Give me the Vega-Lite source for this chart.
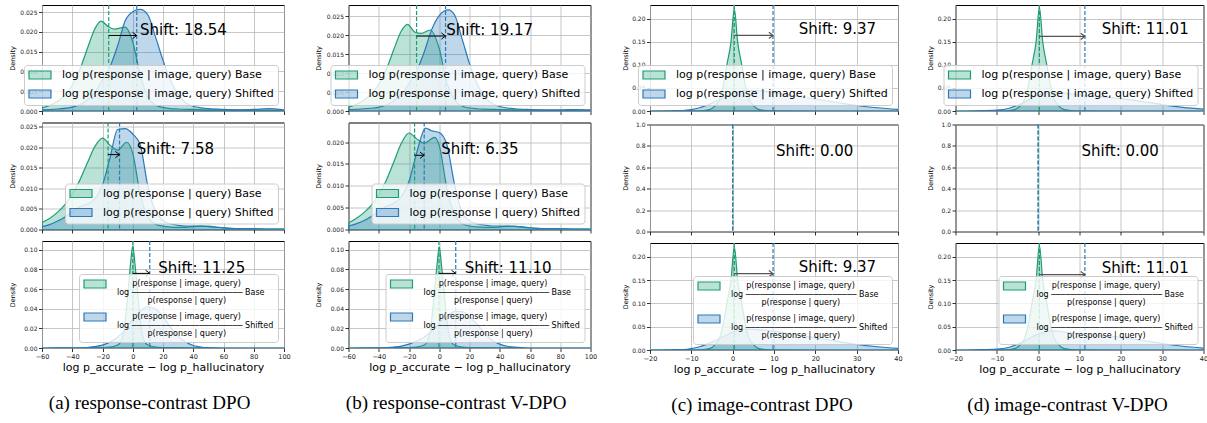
{
"$schema": "https://vega.github.io/schema/vega-lite/v6.json",
"padding": {"left": 8, "top": 3, "right": 0, "bottom": 0},
"background": "white",
"datasets": {"d": [
{"p":"a1","k":"c","s":"Base","x":-60,"y":0.0008},{"p":"a1","k":"c","s":"Base","x":-55,"y":0.0014},{"p":"a1","k":"c","s":"Base","x":-50,"y":0.0024},{"p":"a1","k":"c","s":"Base","x":-45,"y":0.004},{"p":"a1","k":"c","s":"Base","x":-40,"y":0.0065},{"p":"a1","k":"c","s":"Base","x":-35,"y":0.0105},{"p":"a1","k":"c","s":"Base","x":-30,"y":0.0158},{"p":"a1","k":"c","s":"Base","x":-25,"y":0.0208},{"p":"a1","k":"c","s":"Base","x":-21,"y":0.0227},{"p":"a1","k":"c","s":"Base","x":-16,"y":0.0213},{"p":"a1","k":"c","s":"Base","x":-12,"y":0.0207},{"p":"a1","k":"c","s":"Base","x":-5,"y":0.0212},{"p":"a1","k":"c","s":"Base","x":0,"y":0.0175},{"p":"a1","k":"c","s":"Base","x":5,"y":0.009},{"p":"a1","k":"c","s":"Base","x":10,"y":0.0035},{"p":"a1","k":"c","s":"Base","x":15,"y":0.0015},{"p":"a1","k":"c","s":"Base","x":20,"y":0.0009},{"p":"a1","k":"c","s":"Base","x":25,"y":0.0006},{"p":"a1","k":"c","s":"Base","x":30,"y":0.0005},{"p":"a1","k":"c","s":"Base","x":40,"y":0.0004},{"p":"a1","k":"c","s":"Base","x":50,"y":0.0003},{"p":"a1","k":"c","s":"Base","x":60,"y":0.0003},{"p":"a1","k":"c","s":"Base","x":70,"y":0.0002},{"p":"a1","k":"c","s":"Base","x":80,"y":0.0002},{"p":"a1","k":"c","s":"Base","x":90,"y":0.0002},{"p":"a1","k":"c","s":"Base","x":100,"y":0.0001},
{"p":"a1","k":"c","s":"Shifted","x":-60,"y":0.0003},{"p":"a1","k":"c","s":"Shifted","x":-50,"y":0.0005},{"p":"a1","k":"c","s":"Shifted","x":-40,"y":0.001},{"p":"a1","k":"c","s":"Shifted","x":-35,"y":0.0016},{"p":"a1","k":"c","s":"Shifted","x":-30,"y":0.0028},{"p":"a1","k":"c","s":"Shifted","x":-25,"y":0.0048},{"p":"a1","k":"c","s":"Shifted","x":-20,"y":0.0078},{"p":"a1","k":"c","s":"Shifted","x":-15,"y":0.0112},{"p":"a1","k":"c","s":"Shifted","x":-10,"y":0.0165},{"p":"a1","k":"c","s":"Shifted","x":-5,"y":0.0228},{"p":"a1","k":"c","s":"Shifted","x":0,"y":0.0251},{"p":"a1","k":"c","s":"Shifted","x":5,"y":0.0257},{"p":"a1","k":"c","s":"Shifted","x":10,"y":0.0243},{"p":"a1","k":"c","s":"Shifted","x":15,"y":0.0188},{"p":"a1","k":"c","s":"Shifted","x":20,"y":0.0128},{"p":"a1","k":"c","s":"Shifted","x":25,"y":0.0078},{"p":"a1","k":"c","s":"Shifted","x":30,"y":0.0042},{"p":"a1","k":"c","s":"Shifted","x":35,"y":0.0021},{"p":"a1","k":"c","s":"Shifted","x":40,"y":0.0012},{"p":"a1","k":"c","s":"Shifted","x":45,"y":0.0008},{"p":"a1","k":"c","s":"Shifted","x":50,"y":0.0006},{"p":"a1","k":"c","s":"Shifted","x":60,"y":0.0004},{"p":"a1","k":"c","s":"Shifted","x":70,"y":0.0003},{"p":"a1","k":"c","s":"Shifted","x":80,"y":0.0004},{"p":"a1","k":"c","s":"Shifted","x":90,"y":0.0006},{"p":"a1","k":"c","s":"Shifted","x":100,"y":0.0003},
{"p":"a1","k":"m","s":"Base","x":-15.9},{"p":"a1","k":"m","s":"Shifted","x":2.64},
{"p":"a1","k":"s","x":-15.9,"x2":2.64,"y":0.0191},{"p":"a1","k":"t","x":4.8,"y":0.0204,"t":"Shift: 18.54"},

{"p":"a2","k":"c","s":"Base","x":-60,"y":0.0017},{"p":"a2","k":"c","s":"Base","x":-55,"y":0.0027},{"p":"a2","k":"c","s":"Base","x":-50,"y":0.0041},{"p":"a2","k":"c","s":"Base","x":-45,"y":0.006},{"p":"a2","k":"c","s":"Base","x":-40,"y":0.0086},{"p":"a2","k":"c","s":"Base","x":-35,"y":0.012},{"p":"a2","k":"c","s":"Base","x":-30,"y":0.0162},{"p":"a2","k":"c","s":"Base","x":-25,"y":0.0202},{"p":"a2","k":"c","s":"Base","x":-20,"y":0.0222},{"p":"a2","k":"c","s":"Base","x":-15,"y":0.0205},{"p":"a2","k":"c","s":"Base","x":-10,"y":0.0193},{"p":"a2","k":"c","s":"Base","x":-4,"y":0.0212},{"p":"a2","k":"c","s":"Base","x":0,"y":0.0185},{"p":"a2","k":"c","s":"Base","x":5,"y":0.0085},{"p":"a2","k":"c","s":"Base","x":10,"y":0.003},{"p":"a2","k":"c","s":"Base","x":15,"y":0.0013},{"p":"a2","k":"c","s":"Base","x":20,"y":0.0008},{"p":"a2","k":"c","s":"Base","x":25,"y":0.0006},{"p":"a2","k":"c","s":"Base","x":30,"y":0.0005},{"p":"a2","k":"c","s":"Base","x":35,"y":0.0005},{"p":"a2","k":"c","s":"Base","x":40,"y":0.0007},{"p":"a2","k":"c","s":"Base","x":45,"y":0.0008},{"p":"a2","k":"c","s":"Base","x":50,"y":0.0008},{"p":"a2","k":"c","s":"Base","x":55,"y":0.0006},{"p":"a2","k":"c","s":"Base","x":60,"y":0.0004},{"p":"a2","k":"c","s":"Base","x":70,"y":0.0002},{"p":"a2","k":"c","s":"Base","x":80,"y":0.0001},{"p":"a2","k":"c","s":"Base","x":90,"y":0.0001},{"p":"a2","k":"c","s":"Base","x":100,"y":0.0001},
{"p":"a2","k":"c","s":"Shifted","x":-60,"y":0.0007},{"p":"a2","k":"c","s":"Shifted","x":-55,"y":0.0012},{"p":"a2","k":"c","s":"Shifted","x":-50,"y":0.002},{"p":"a2","k":"c","s":"Shifted","x":-45,"y":0.003},{"p":"a2","k":"c","s":"Shifted","x":-40,"y":0.0043},{"p":"a2","k":"c","s":"Shifted","x":-35,"y":0.0055},{"p":"a2","k":"c","s":"Shifted","x":-30,"y":0.0062},{"p":"a2","k":"c","s":"Shifted","x":-25,"y":0.0075},{"p":"a2","k":"c","s":"Shifted","x":-20,"y":0.0108},{"p":"a2","k":"c","s":"Shifted","x":-15,"y":0.0175},{"p":"a2","k":"c","s":"Shifted","x":-10,"y":0.0243},{"p":"a2","k":"c","s":"Shifted","x":-5,"y":0.0245},{"p":"a2","k":"c","s":"Shifted","x":0,"y":0.0232},{"p":"a2","k":"c","s":"Shifted","x":5,"y":0.0205},{"p":"a2","k":"c","s":"Shifted","x":10,"y":0.0105},{"p":"a2","k":"c","s":"Shifted","x":15,"y":0.0045},{"p":"a2","k":"c","s":"Shifted","x":20,"y":0.0022},{"p":"a2","k":"c","s":"Shifted","x":25,"y":0.0014},{"p":"a2","k":"c","s":"Shifted","x":30,"y":0.001},{"p":"a2","k":"c","s":"Shifted","x":35,"y":0.0008},{"p":"a2","k":"c","s":"Shifted","x":40,"y":0.0008},{"p":"a2","k":"c","s":"Shifted","x":45,"y":0.0008},{"p":"a2","k":"c","s":"Shifted","x":50,"y":0.0007},{"p":"a2","k":"c","s":"Shifted","x":60,"y":0.0004},{"p":"a2","k":"c","s":"Shifted","x":70,"y":0.0002},{"p":"a2","k":"c","s":"Shifted","x":80,"y":0.0002},{"p":"a2","k":"c","s":"Shifted","x":90,"y":0.0001},{"p":"a2","k":"c","s":"Shifted","x":100,"y":0.0001},
{"p":"a2","k":"m","s":"Base","x":-16.3},{"p":"a2","k":"m","s":"Shifted","x":-8.72},
{"p":"a2","k":"s","x":-16.3,"x2":-8.72,"y":0.0182},{"p":"a2","k":"t","x":2.6,"y":0.0196,"t":"Shift: 7.58"},

{"p":"a3","k":"c","s":"Base","x":-60,"y":0},{"p":"a3","k":"c","s":"Base","x":-40,"y":0.0001},{"p":"a3","k":"c","s":"Base","x":-25,"y":0.0003},{"p":"a3","k":"c","s":"Base","x":-15,"y":0.001},{"p":"a3","k":"c","s":"Base","x":-10,"y":0.003},{"p":"a3","k":"c","s":"Base","x":-8,"y":0.006},{"p":"a3","k":"c","s":"Base","x":-6,"y":0.016},{"p":"a3","k":"c","s":"Base","x":-4.5,"y":0.035},{"p":"a3","k":"c","s":"Base","x":-3,"y":0.06},{"p":"a3","k":"c","s":"Base","x":-1.5,"y":0.085},{"p":"a3","k":"c","s":"Base","x":0,"y":0.104},{"p":"a3","k":"c","s":"Base","x":1.5,"y":0.085},{"p":"a3","k":"c","s":"Base","x":3,"y":0.06},{"p":"a3","k":"c","s":"Base","x":4.5,"y":0.035},{"p":"a3","k":"c","s":"Base","x":6,"y":0.016},{"p":"a3","k":"c","s":"Base","x":8,"y":0.006},{"p":"a3","k":"c","s":"Base","x":10,"y":0.003},{"p":"a3","k":"c","s":"Base","x":15,"y":0.001},{"p":"a3","k":"c","s":"Base","x":25,"y":0.0003},{"p":"a3","k":"c","s":"Base","x":40,"y":0.0001},{"p":"a3","k":"c","s":"Base","x":60,"y":0},{"p":"a3","k":"c","s":"Base","x":100,"y":0},
{"p":"a3","k":"c","s":"Shifted","x":-60,"y":0},{"p":"a3","k":"c","s":"Shifted","x":-40,"y":0.0001},{"p":"a3","k":"c","s":"Shifted","x":-30,"y":0.0005},{"p":"a3","k":"c","s":"Shifted","x":-25,"y":0.0015},{"p":"a3","k":"c","s":"Shifted","x":-20,"y":0.003},{"p":"a3","k":"c","s":"Shifted","x":-15,"y":0.006},{"p":"a3","k":"c","s":"Shifted","x":-10,"y":0.011},{"p":"a3","k":"c","s":"Shifted","x":-5,"y":0.019},{"p":"a3","k":"c","s":"Shifted","x":0,"y":0.029},{"p":"a3","k":"c","s":"Shifted","x":5,"y":0.038},{"p":"a3","k":"c","s":"Shifted","x":10,"y":0.042},{"p":"a3","k":"c","s":"Shifted","x":15,"y":0.04},{"p":"a3","k":"c","s":"Shifted","x":20,"y":0.032},{"p":"a3","k":"c","s":"Shifted","x":25,"y":0.021},{"p":"a3","k":"c","s":"Shifted","x":30,"y":0.012},{"p":"a3","k":"c","s":"Shifted","x":35,"y":0.006},{"p":"a3","k":"c","s":"Shifted","x":40,"y":0.0025},{"p":"a3","k":"c","s":"Shifted","x":45,"y":0.001},{"p":"a3","k":"c","s":"Shifted","x":50,"y":0.0003},{"p":"a3","k":"c","s":"Shifted","x":60,"y":0},{"p":"a3","k":"c","s":"Shifted","x":100,"y":0},
{"p":"a3","k":"m","s":"Base","x":0},{"p":"a3","k":"m","s":"Shifted","x":11.25},
{"p":"a3","k":"s","x":0,"x2":11.25,"y":0.076},{"p":"a3","k":"t","x":16.9,"y":0.082,"t":"Shift: 11.25"},

{"p":"b1","k":"c","s":"Base","x":-60,"y":0.001},{"p":"b1","k":"c","s":"Base","x":-55,"y":0.0017},{"p":"b1","k":"c","s":"Base","x":-50,"y":0.0028},{"p":"b1","k":"c","s":"Base","x":-45,"y":0.0045},{"p":"b1","k":"c","s":"Base","x":-40,"y":0.007},{"p":"b1","k":"c","s":"Base","x":-35,"y":0.011},{"p":"b1","k":"c","s":"Base","x":-30,"y":0.0163},{"p":"b1","k":"c","s":"Base","x":-25,"y":0.0212},{"p":"b1","k":"c","s":"Base","x":-21,"y":0.0229},{"p":"b1","k":"c","s":"Base","x":-16,"y":0.0208},{"p":"b1","k":"c","s":"Base","x":-12,"y":0.0205},{"p":"b1","k":"c","s":"Base","x":-6,"y":0.0214},{"p":"b1","k":"c","s":"Base","x":0,"y":0.0165},{"p":"b1","k":"c","s":"Base","x":5,"y":0.0075},{"p":"b1","k":"c","s":"Base","x":10,"y":0.003},{"p":"b1","k":"c","s":"Base","x":15,"y":0.0013},{"p":"b1","k":"c","s":"Base","x":20,"y":0.0008},{"p":"b1","k":"c","s":"Base","x":25,"y":0.0006},{"p":"b1","k":"c","s":"Base","x":30,"y":0.0005},{"p":"b1","k":"c","s":"Base","x":40,"y":0.0004},{"p":"b1","k":"c","s":"Base","x":50,"y":0.0003},{"p":"b1","k":"c","s":"Base","x":60,"y":0.0003},{"p":"b1","k":"c","s":"Base","x":70,"y":0.0002},{"p":"b1","k":"c","s":"Base","x":80,"y":0.0002},{"p":"b1","k":"c","s":"Base","x":90,"y":0.0002},{"p":"b1","k":"c","s":"Base","x":100,"y":0.0001},
{"p":"b1","k":"c","s":"Shifted","x":-60,"y":0.0004},{"p":"b1","k":"c","s":"Shifted","x":-50,"y":0.0006},{"p":"b1","k":"c","s":"Shifted","x":-40,"y":0.001},{"p":"b1","k":"c","s":"Shifted","x":-35,"y":0.0016},{"p":"b1","k":"c","s":"Shifted","x":-30,"y":0.0027},{"p":"b1","k":"c","s":"Shifted","x":-25,"y":0.0045},{"p":"b1","k":"c","s":"Shifted","x":-20,"y":0.0072},{"p":"b1","k":"c","s":"Shifted","x":-15,"y":0.0105},{"p":"b1","k":"c","s":"Shifted","x":-10,"y":0.0155},{"p":"b1","k":"c","s":"Shifted","x":-5,"y":0.0215},{"p":"b1","k":"c","s":"Shifted","x":0,"y":0.0252},{"p":"b1","k":"c","s":"Shifted","x":6,"y":0.0267},{"p":"b1","k":"c","s":"Shifted","x":10,"y":0.0255},{"p":"b1","k":"c","s":"Shifted","x":15,"y":0.0192},{"p":"b1","k":"c","s":"Shifted","x":20,"y":0.0125},{"p":"b1","k":"c","s":"Shifted","x":25,"y":0.0072},{"p":"b1","k":"c","s":"Shifted","x":30,"y":0.0038},{"p":"b1","k":"c","s":"Shifted","x":35,"y":0.002},{"p":"b1","k":"c","s":"Shifted","x":40,"y":0.0012},{"p":"b1","k":"c","s":"Shifted","x":45,"y":0.0008},{"p":"b1","k":"c","s":"Shifted","x":50,"y":0.0006},{"p":"b1","k":"c","s":"Shifted","x":60,"y":0.0004},{"p":"b1","k":"c","s":"Shifted","x":70,"y":0.0003},{"p":"b1","k":"c","s":"Shifted","x":80,"y":0.0003},{"p":"b1","k":"c","s":"Shifted","x":90,"y":0.0004},{"p":"b1","k":"c","s":"Shifted","x":100,"y":0.0003},
{"p":"b1","k":"m","s":"Base","x":-15.0},{"p":"b1","k":"m","s":"Shifted","x":4.17},
{"p":"b1","k":"s","x":-15.0,"x2":4.17,"y":0.0198},{"p":"b1","k":"t","x":4.6,"y":0.0215,"t":"Shift: 19.17"},

{"p":"b2","k":"c","s":"Base","x":-60,"y":0.0015},{"p":"b2","k":"c","s":"Base","x":-55,"y":0.0025},{"p":"b2","k":"c","s":"Base","x":-50,"y":0.0038},{"p":"b2","k":"c","s":"Base","x":-45,"y":0.0055},{"p":"b2","k":"c","s":"Base","x":-40,"y":0.008},{"p":"b2","k":"c","s":"Base","x":-35,"y":0.0113},{"p":"b2","k":"c","s":"Base","x":-30,"y":0.0155},{"p":"b2","k":"c","s":"Base","x":-25,"y":0.0198},{"p":"b2","k":"c","s":"Base","x":-20,"y":0.0221},{"p":"b2","k":"c","s":"Base","x":-15,"y":0.0208},{"p":"b2","k":"c","s":"Base","x":-10,"y":0.0198},{"p":"b2","k":"c","s":"Base","x":-3,"y":0.0211},{"p":"b2","k":"c","s":"Base","x":0,"y":0.0192},{"p":"b2","k":"c","s":"Base","x":5,"y":0.0095},{"p":"b2","k":"c","s":"Base","x":10,"y":0.0035},{"p":"b2","k":"c","s":"Base","x":15,"y":0.0014},{"p":"b2","k":"c","s":"Base","x":20,"y":0.0008},{"p":"b2","k":"c","s":"Base","x":25,"y":0.0006},{"p":"b2","k":"c","s":"Base","x":30,"y":0.0005},{"p":"b2","k":"c","s":"Base","x":35,"y":0.0005},{"p":"b2","k":"c","s":"Base","x":40,"y":0.0006},{"p":"b2","k":"c","s":"Base","x":45,"y":0.0007},{"p":"b2","k":"c","s":"Base","x":50,"y":0.0007},{"p":"b2","k":"c","s":"Base","x":55,"y":0.0006},{"p":"b2","k":"c","s":"Base","x":60,"y":0.0004},{"p":"b2","k":"c","s":"Base","x":70,"y":0.0002},{"p":"b2","k":"c","s":"Base","x":80,"y":0.0001},{"p":"b2","k":"c","s":"Base","x":90,"y":0.0001},{"p":"b2","k":"c","s":"Base","x":100,"y":0.0001},
{"p":"b2","k":"c","s":"Shifted","x":-60,"y":0.0008},{"p":"b2","k":"c","s":"Shifted","x":-55,"y":0.0013},{"p":"b2","k":"c","s":"Shifted","x":-50,"y":0.002},{"p":"b2","k":"c","s":"Shifted","x":-45,"y":0.003},{"p":"b2","k":"c","s":"Shifted","x":-40,"y":0.0042},{"p":"b2","k":"c","s":"Shifted","x":-35,"y":0.0053},{"p":"b2","k":"c","s":"Shifted","x":-30,"y":0.006},{"p":"b2","k":"c","s":"Shifted","x":-25,"y":0.0075},{"p":"b2","k":"c","s":"Shifted","x":-20,"y":0.011},{"p":"b2","k":"c","s":"Shifted","x":-15,"y":0.0175},{"p":"b2","k":"c","s":"Shifted","x":-9,"y":0.0232},{"p":"b2","k":"c","s":"Shifted","x":-5,"y":0.0226},{"p":"b2","k":"c","s":"Shifted","x":0,"y":0.0222},{"p":"b2","k":"c","s":"Shifted","x":5,"y":0.0195},{"p":"b2","k":"c","s":"Shifted","x":10,"y":0.0105},{"p":"b2","k":"c","s":"Shifted","x":15,"y":0.004},{"p":"b2","k":"c","s":"Shifted","x":20,"y":0.002},{"p":"b2","k":"c","s":"Shifted","x":25,"y":0.0013},{"p":"b2","k":"c","s":"Shifted","x":30,"y":0.001},{"p":"b2","k":"c","s":"Shifted","x":35,"y":0.0008},{"p":"b2","k":"c","s":"Shifted","x":40,"y":0.0008},{"p":"b2","k":"c","s":"Shifted","x":45,"y":0.0008},{"p":"b2","k":"c","s":"Shifted","x":50,"y":0.0007},{"p":"b2","k":"c","s":"Shifted","x":60,"y":0.0004},{"p":"b2","k":"c","s":"Shifted","x":70,"y":0.0002},{"p":"b2","k":"c","s":"Shifted","x":80,"y":0.0002},{"p":"b2","k":"c","s":"Shifted","x":90,"y":0.0001},{"p":"b2","k":"c","s":"Shifted","x":100,"y":0.0001},
{"p":"b2","k":"m","s":"Base","x":-16.3},{"p":"b2","k":"m","s":"Shifted","x":-9.95},
{"p":"b2","k":"s","x":-16.3,"x2":-9.95,"y":0.017},{"p":"b2","k":"t","x":1.3,"y":0.0185,"t":"Shift: 6.35"},

{"p":"b3","k":"c","s":"Base","x":-60,"y":0},{"p":"b3","k":"c","s":"Base","x":-40,"y":0.0001},{"p":"b3","k":"c","s":"Base","x":-25,"y":0.0003},{"p":"b3","k":"c","s":"Base","x":-15,"y":0.001},{"p":"b3","k":"c","s":"Base","x":-10,"y":0.003},{"p":"b3","k":"c","s":"Base","x":-8,"y":0.0065},{"p":"b3","k":"c","s":"Base","x":-6,"y":0.017},{"p":"b3","k":"c","s":"Base","x":-4.5,"y":0.036},{"p":"b3","k":"c","s":"Base","x":-3,"y":0.06},{"p":"b3","k":"c","s":"Base","x":-1.5,"y":0.084},{"p":"b3","k":"c","s":"Base","x":0,"y":0.103},{"p":"b3","k":"c","s":"Base","x":1.5,"y":0.084},{"p":"b3","k":"c","s":"Base","x":3,"y":0.06},{"p":"b3","k":"c","s":"Base","x":4.5,"y":0.036},{"p":"b3","k":"c","s":"Base","x":6,"y":0.017},{"p":"b3","k":"c","s":"Base","x":8,"y":0.0065},{"p":"b3","k":"c","s":"Base","x":10,"y":0.003},{"p":"b3","k":"c","s":"Base","x":15,"y":0.001},{"p":"b3","k":"c","s":"Base","x":25,"y":0.0003},{"p":"b3","k":"c","s":"Base","x":40,"y":0.0001},{"p":"b3","k":"c","s":"Base","x":60,"y":0},{"p":"b3","k":"c","s":"Base","x":100,"y":0},
{"p":"b3","k":"c","s":"Shifted","x":-60,"y":0},{"p":"b3","k":"c","s":"Shifted","x":-40,"y":0.0002},{"p":"b3","k":"c","s":"Shifted","x":-30,"y":0.001},{"p":"b3","k":"c","s":"Shifted","x":-25,"y":0.002},{"p":"b3","k":"c","s":"Shifted","x":-20,"y":0.004},{"p":"b3","k":"c","s":"Shifted","x":-15,"y":0.007},{"p":"b3","k":"c","s":"Shifted","x":-10,"y":0.011},{"p":"b3","k":"c","s":"Shifted","x":-5,"y":0.017},{"p":"b3","k":"c","s":"Shifted","x":0,"y":0.025},{"p":"b3","k":"c","s":"Shifted","x":5,"y":0.032},{"p":"b3","k":"c","s":"Shifted","x":10,"y":0.037},{"p":"b3","k":"c","s":"Shifted","x":15,"y":0.037},{"p":"b3","k":"c","s":"Shifted","x":20,"y":0.032},{"p":"b3","k":"c","s":"Shifted","x":25,"y":0.024},{"p":"b3","k":"c","s":"Shifted","x":30,"y":0.015},{"p":"b3","k":"c","s":"Shifted","x":35,"y":0.008},{"p":"b3","k":"c","s":"Shifted","x":40,"y":0.004},{"p":"b3","k":"c","s":"Shifted","x":45,"y":0.0018},{"p":"b3","k":"c","s":"Shifted","x":50,"y":0.0008},{"p":"b3","k":"c","s":"Shifted","x":55,"y":0.0003},{"p":"b3","k":"c","s":"Shifted","x":60,"y":0},{"p":"b3","k":"c","s":"Shifted","x":100,"y":0},
{"p":"b3","k":"m","s":"Base","x":-0.2},{"p":"b3","k":"m","s":"Shifted","x":10.9},
{"p":"b3","k":"s","x":-0.2,"x2":10.9,"y":0.076},{"p":"b3","k":"t","x":16.8,"y":0.082,"t":"Shift: 11.10"},

{"p":"c","k":"c","s":"Base","x":-20,"y":0},{"p":"c","k":"c","s":"Base","x":-10,"y":0.0002},{"p":"c","k":"c","s":"Base","x":-7,"y":0.001},{"p":"c","k":"c","s":"Base","x":-5.6,"y":0.003},{"p":"c","k":"c","s":"Base","x":-4.4,"y":0.01},{"p":"c","k":"c","s":"Base","x":-3.2,"y":0.025},{"p":"c","k":"c","s":"Base","x":-2.4,"y":0.05},{"p":"c","k":"c","s":"Base","x":-1.4,"y":0.1},{"p":"c","k":"c","s":"Base","x":-0.4,"y":0.15},{"p":"c","k":"c","s":"Base","x":0.4,"y":0.222},{"p":"c","k":"c","s":"Base","x":1.2,"y":0.15},{"p":"c","k":"c","s":"Base","x":2.2,"y":0.1},{"p":"c","k":"c","s":"Base","x":3.2,"y":0.05},{"p":"c","k":"c","s":"Base","x":4,"y":0.025},{"p":"c","k":"c","s":"Base","x":5.2,"y":0.01},{"p":"c","k":"c","s":"Base","x":6.4,"y":0.003},{"p":"c","k":"c","s":"Base","x":8,"y":0.001},{"p":"c","k":"c","s":"Base","x":12,"y":0.0002},{"p":"c","k":"c","s":"Base","x":20,"y":0},{"p":"c","k":"c","s":"Base","x":40,"y":0},
{"p":"c","k":"c","s":"Shifted","x":-20,"y":0},{"p":"c","k":"c","s":"Shifted","x":-15,"y":0.0005},{"p":"c","k":"c","s":"Shifted","x":-12,"y":0.001},{"p":"c","k":"c","s":"Shifted","x":-10,"y":0.003},{"p":"c","k":"c","s":"Shifted","x":-8,"y":0.007},{"p":"c","k":"c","s":"Shifted","x":-5,"y":0.017},{"p":"c","k":"c","s":"Shifted","x":-2,"y":0.03},{"p":"c","k":"c","s":"Shifted","x":0,"y":0.038},{"p":"c","k":"c","s":"Shifted","x":3,"y":0.045},{"p":"c","k":"c","s":"Shifted","x":6,"y":0.044},{"p":"c","k":"c","s":"Shifted","x":10,"y":0.04},{"p":"c","k":"c","s":"Shifted","x":15,"y":0.033},{"p":"c","k":"c","s":"Shifted","x":20,"y":0.026},{"p":"c","k":"c","s":"Shifted","x":25,"y":0.019},{"p":"c","k":"c","s":"Shifted","x":30,"y":0.012},{"p":"c","k":"c","s":"Shifted","x":35,"y":0.007},{"p":"c","k":"c","s":"Shifted","x":40,"y":0.0035},
{"p":"c","k":"m","s":"Base","x":0.4},{"p":"c","k":"m","s":"Shifted","x":9.77},
{"p":"c","k":"s","x":0.4,"x2":9.77,"y":0.164},{"p":"c","k":"t","x":16.0,"y":0.178,"t":"Shift: 9.37"},

{"p":"d","k":"c","s":"Base","x":-20,"y":0},{"p":"d","k":"c","s":"Base","x":-10,"y":0.0002},{"p":"d","k":"c","s":"Base","x":-7,"y":0.001},{"p":"d","k":"c","s":"Base","x":-5.7,"y":0.003},{"p":"d","k":"c","s":"Base","x":-4.5,"y":0.01},{"p":"d","k":"c","s":"Base","x":-3.3,"y":0.025},{"p":"d","k":"c","s":"Base","x":-2.5,"y":0.05},{"p":"d","k":"c","s":"Base","x":-1.5,"y":0.1},{"p":"d","k":"c","s":"Base","x":-0.5,"y":0.15},{"p":"d","k":"c","s":"Base","x":0.3,"y":0.225},{"p":"d","k":"c","s":"Base","x":1.1,"y":0.15},{"p":"d","k":"c","s":"Base","x":2.1,"y":0.1},{"p":"d","k":"c","s":"Base","x":3.1,"y":0.05},{"p":"d","k":"c","s":"Base","x":3.9,"y":0.025},{"p":"d","k":"c","s":"Base","x":5.1,"y":0.01},{"p":"d","k":"c","s":"Base","x":6.3,"y":0.003},{"p":"d","k":"c","s":"Base","x":8,"y":0.001},{"p":"d","k":"c","s":"Base","x":12,"y":0.0002},{"p":"d","k":"c","s":"Base","x":20,"y":0},{"p":"d","k":"c","s":"Base","x":40,"y":0},
{"p":"d","k":"c","s":"Shifted","x":-20,"y":0},{"p":"d","k":"c","s":"Shifted","x":-15,"y":0.0005},{"p":"d","k":"c","s":"Shifted","x":-10,"y":0.002},{"p":"d","k":"c","s":"Shifted","x":-7,"y":0.006},{"p":"d","k":"c","s":"Shifted","x":-4,"y":0.016},{"p":"d","k":"c","s":"Shifted","x":-1,"y":0.03},{"p":"d","k":"c","s":"Shifted","x":2,"y":0.04},{"p":"d","k":"c","s":"Shifted","x":4,"y":0.041},{"p":"d","k":"c","s":"Shifted","x":7,"y":0.038},{"p":"d","k":"c","s":"Shifted","x":10,"y":0.035},{"p":"d","k":"c","s":"Shifted","x":15,"y":0.031},{"p":"d","k":"c","s":"Shifted","x":20,"y":0.027},{"p":"d","k":"c","s":"Shifted","x":25,"y":0.021},{"p":"d","k":"c","s":"Shifted","x":30,"y":0.014},{"p":"d","k":"c","s":"Shifted","x":35,"y":0.008},{"p":"d","k":"c","s":"Shifted","x":40,"y":0.004},
{"p":"d","k":"m","s":"Base","x":0.3},{"p":"d","k":"m","s":"Shifted","x":11.31},
{"p":"d","k":"s","x":0.3,"x2":11.31,"y":0.162},{"p":"d","k":"t","x":15.4,"y":0.177,"t":"Shift: 11.01"},

{"p":"e","k":"m","s":"Base","x":0},{"p":"e","k":"m","s":"Shifted","x":0},
{"p":"e","k":"t","x":10.5,"y":0.75,"t":"Shift: 0.00"}
]},
"hconcat": [
{"title": {"text": "(a) response-contrast DPO", "orient": "bottom", "anchor": "middle", "font": "Liberation Serif", "fontSize": 19, "fontWeight": "normal", "color": "#000", "offset": 21},
 "spacing": 4.5,
 "resolve": {"scale": {"x": "independent", "y": "independent", "fill": "independent", "stroke": "independent"}, "legend": {"fill": "independent", "stroke": "independent"}, "axis": {"x": "independent", "y": "independent"}},
 "vconcat": [
  {"width": 242, "height": 106, "data": {"name": "d"}, "transform": [{"filter": "datum.p == 'a1'"}],
   "layer": [
    {"transform": [{"filter": "datum.k == 'c'"}], "mark": {"type": "area", "interpolate": "monotone", "fillOpacity": 0.3, "strokeWidth": 1.2, "clip": true},
     "encoding": {
      "x": {"field": "x", "type": "quantitative", "scale": {"domain": [-60, 100], "nice": false, "zero": false}, "axis": {"values": [-60,-40,-20,0,20,40,60,80,100], "tickCount": 30, "labels": false, "title": null}},
      "y": {"field": "y", "type": "quantitative", "stack": null, "scale": {"domain": [0, 0.0268], "nice": false}, "axis": {"values": [0,0.005,0.01,0.015,0.02,0.025], "tickCount": 30, "format": ".3f", "title": "Density", "minExtent": 24, "maxExtent": 24, "labelOverlap": false}},
      "fill": {"field": "s", "type": "nominal", "scale": {"domain": ["Base","Shifted"], "range": ["#1b9e77","#2a7ab9"]}, "legend": {"title": null, "labelExpr": "'log p(response | image, query) ' + datum.label", "encode": {"symbols": {"update": {"fillOpacity": {"value": 0.3}}}}}},
      "stroke": {"field": "s", "type": "nominal", "scale": {"domain": ["Base","Shifted"], "range": ["#1b9e77","#2a7ab9"]}, "legend": {"title": null, "labelExpr": "'log p(response | image, query) ' + datum.label", "encode": {"symbols": {"update": {"fillOpacity": {"value": 0.3}}}}}}}},
    {"transform": [{"filter": "datum.k == 'm' && datum.s == 'Base'"}], "mark": {"type": "rule", "stroke": "#1b9e77", "strokeDash": [4, 2], "strokeWidth": 1.2}, "encoding": {"x": {"field": "x", "type": "quantitative"}}},
    {"transform": [{"filter": "datum.k == 'm' && datum.s == 'Shifted'"}], "mark": {"type": "rule", "stroke": "#2a7ab9", "strokeDash": [4, 2], "strokeWidth": 1.2}, "encoding": {"x": {"field": "x", "type": "quantitative"}}},
    {"transform": [{"filter": "datum.k == 's'"}], "mark": {"type": "rule", "stroke": "#000", "strokeWidth": 1}, "encoding": {"x": {"field": "x", "type": "quantitative"}, "x2": {"field": "x2"}, "y": {"field": "y", "type": "quantitative"}}},
    {"transform": [{"filter": "datum.k == 's'"}], "mark": {"type": "point", "shape": "M-1,-0.75L0,0L-1,0.75", "filled": false, "size": 70, "stroke": "#000", "strokeWidth": 1, "opacity": 1}, "encoding": {"x": {"field": "x2", "type": "quantitative"}, "y": {"field": "y", "type": "quantitative"}}},
    {"transform": [{"filter": "datum.k == 't'"}], "mark": {"type": "text", "align": "left", "baseline": "middle", "fontSize": 15, "font": "DejaVu Sans", "color": "#000"}, "encoding": {"x": {"field": "x", "type": "quantitative"}, "y": {"field": "y", "type": "quantitative"}, "text": {"field": "t"}}}
   ]},
  {"width": 242, "height": 107, "data": {"name": "d"}, "transform": [{"filter": "datum.p == 'a2'"}],
   "layer": [
    {"transform": [{"filter": "datum.k == 'c'"}], "mark": {"type": "area", "interpolate": "monotone", "fillOpacity": 0.3, "strokeWidth": 1.2, "clip": true},
     "encoding": {
      "x": {"field": "x", "type": "quantitative", "scale": {"domain": [-60, 100], "nice": false, "zero": false}, "axis": {"values": [-60,-40,-20,0,20,40,60,80,100], "tickCount": 30, "labels": false, "title": null}},
      "y": {"field": "y", "type": "quantitative", "stack": null, "scale": {"domain": [0, 0.026], "nice": false}, "axis": {"values": [0,0.005,0.01,0.015,0.02,0.025], "tickCount": 30, "format": ".3f", "title": "Density", "minExtent": 24, "maxExtent": 24, "labelOverlap": false}},
      "fill": {"field": "s", "type": "nominal", "scale": {"domain": ["Base","Shifted"], "range": ["#1b9e77","#2a7ab9"]}, "legend": {"title": null, "labelExpr": "'log p(response | query) ' + datum.label", "encode": {"symbols": {"update": {"fillOpacity": {"value": 0.3}}}}}},
      "stroke": {"field": "s", "type": "nominal", "scale": {"domain": ["Base","Shifted"], "range": ["#1b9e77","#2a7ab9"]}, "legend": {"title": null, "labelExpr": "'log p(response | query) ' + datum.label", "encode": {"symbols": {"update": {"fillOpacity": {"value": 0.3}}}}}}}},
    {"transform": [{"filter": "datum.k == 'm' && datum.s == 'Base'"}], "mark": {"type": "rule", "stroke": "#1b9e77", "strokeDash": [4, 2], "strokeWidth": 1.2}, "encoding": {"x": {"field": "x", "type": "quantitative"}}},
    {"transform": [{"filter": "datum.k == 'm' && datum.s == 'Shifted'"}], "mark": {"type": "rule", "stroke": "#2a7ab9", "strokeDash": [4, 2], "strokeWidth": 1.2}, "encoding": {"x": {"field": "x", "type": "quantitative"}}},
    {"transform": [{"filter": "datum.k == 's'"}], "mark": {"type": "rule", "stroke": "#000", "strokeWidth": 1}, "encoding": {"x": {"field": "x", "type": "quantitative"}, "x2": {"field": "x2"}, "y": {"field": "y", "type": "quantitative"}}},
    {"transform": [{"filter": "datum.k == 's'"}], "mark": {"type": "point", "shape": "M-1,-0.75L0,0L-1,0.75", "filled": false, "size": 70, "stroke": "#000", "strokeWidth": 1, "opacity": 1}, "encoding": {"x": {"field": "x2", "type": "quantitative"}, "y": {"field": "y", "type": "quantitative"}}},
    {"transform": [{"filter": "datum.k == 't'"}], "mark": {"type": "text", "align": "left", "baseline": "middle", "fontSize": 15, "font": "DejaVu Sans", "color": "#000"}, "encoding": {"x": {"field": "x", "type": "quantitative"}, "y": {"field": "y", "type": "quantitative"}, "text": {"field": "t"}}}
   ]},
  {"width": 242, "height": 107, "data": {"name": "d"}, "transform": [{"filter": "datum.p == 'a3'"}],
   "layer": [
    {"transform": [{"filter": "datum.k == 'c'"}], "mark": {"type": "area", "interpolate": "monotone", "fillOpacity": 0.3, "strokeWidth": 1.2, "clip": true},
     "encoding": {
      "x": {"field": "x", "type": "quantitative", "scale": {"domain": [-60, 100], "nice": false, "zero": false}, "axis": {"values": [-60,-40,-20,0,20,40,60,80,100], "tickCount": 30, "labelOverlap": false, "format": "d", "title": "log p_accurate − log p_hallucinatory"}},
      "y": {"field": "y", "type": "quantitative", "stack": null, "scale": {"domain": [0, 0.109], "nice": false}, "axis": {"values": [0,0.02,0.04,0.06,0.08,0.1], "tickCount": 30, "format": ".2f", "title": "Density", "minExtent": 24, "maxExtent": 24, "labelOverlap": false}},
      "fill": {"field": "s", "type": "nominal", "scale": {"domain": ["Base","Shifted"], "range": ["#1b9e77","#2a7ab9"]}, "legend": {"title": null, "labelFontSize": 8, "encode": {"labels": {"update": {"lineHeight": {"value": 8.5}}}, "symbols": {"update": {"fillOpacity": {"value": 0.3}}}}, "labelExpr": "['\u200b\u00a0\u00a0\u00a0\u00a0\u00a0\u00a0p(response | image, query)', 'log ─────────────────────── ' + datum.label, '\u200b\u00a0\u00a0\u00a0\u00a0\u00a0\u00a0\u00a0\u00a0\u00a0\u00a0\u00a0\u00a0p(response | query)']"}},
      "stroke": {"field": "s", "type": "nominal", "scale": {"domain": ["Base","Shifted"], "range": ["#1b9e77","#2a7ab9"]}, "legend": {"title": null, "labelFontSize": 8, "encode": {"labels": {"update": {"lineHeight": {"value": 8.5}}}, "symbols": {"update": {"fillOpacity": {"value": 0.3}}}}, "labelExpr": "['\u200b\u00a0\u00a0\u00a0\u00a0\u00a0\u00a0p(response | image, query)', 'log ─────────────────────── ' + datum.label, '\u200b\u00a0\u00a0\u00a0\u00a0\u00a0\u00a0\u00a0\u00a0\u00a0\u00a0\u00a0\u00a0p(response | query)']"}}}},
    {"transform": [{"filter": "datum.k == 'm' && datum.s == 'Base'"}], "mark": {"type": "rule", "stroke": "#1b9e77", "strokeDash": [4, 2], "strokeWidth": 1.2}, "encoding": {"x": {"field": "x", "type": "quantitative"}}},
    {"transform": [{"filter": "datum.k == 'm' && datum.s == 'Shifted'"}], "mark": {"type": "rule", "stroke": "#2a7ab9", "strokeDash": [4, 2], "strokeWidth": 1.2}, "encoding": {"x": {"field": "x", "type": "quantitative"}}},
    {"transform": [{"filter": "datum.k == 's'"}], "mark": {"type": "rule", "stroke": "#000", "strokeWidth": 1}, "encoding": {"x": {"field": "x", "type": "quantitative"}, "x2": {"field": "x2"}, "y": {"field": "y", "type": "quantitative"}}},
    {"transform": [{"filter": "datum.k == 's'"}], "mark": {"type": "point", "shape": "M-1,-0.75L0,0L-1,0.75", "filled": false, "size": 70, "stroke": "#000", "strokeWidth": 1, "opacity": 1}, "encoding": {"x": {"field": "x2", "type": "quantitative"}, "y": {"field": "y", "type": "quantitative"}}},
    {"transform": [{"filter": "datum.k == 't'"}], "mark": {"type": "text", "align": "left", "baseline": "middle", "fontSize": 15, "font": "DejaVu Sans", "color": "#000"}, "encoding": {"x": {"field": "x", "type": "quantitative"}, "y": {"field": "y", "type": "quantitative"}, "text": {"field": "t"}}}
   ]}
 ]},
{"title": {"text": "(b) response-contrast V-DPO", "orient": "bottom", "anchor": "middle", "font": "Liberation Serif", "fontSize": 19, "fontWeight": "normal", "color": "#000", "offset": 21},
 "spacing": 4.5,
 "resolve": {"scale": {"x": "independent", "y": "independent", "fill": "independent", "stroke": "independent"}, "legend": {"fill": "independent", "stroke": "independent"}, "axis": {"x": "independent", "y": "independent"}},
 "vconcat": [
  {"width": 242, "height": 106, "data": {"name": "d"}, "transform": [{"filter": "datum.p == 'b1'"}],
   "layer": [
    {"transform": [{"filter": "datum.k == 'c'"}], "mark": {"type": "area", "interpolate": "monotone", "fillOpacity": 0.3, "strokeWidth": 1.2, "clip": true},
     "encoding": {
      "x": {"field": "x", "type": "quantitative", "scale": {"domain": [-60, 100], "nice": false, "zero": false}, "axis": {"values": [-60,-40,-20,0,20,40,60,80,100], "tickCount": 30, "labels": false, "title": null}},
      "y": {"field": "y", "type": "quantitative", "stack": null, "scale": {"domain": [0, 0.028], "nice": false}, "axis": {"values": [0,0.005,0.01,0.015,0.02,0.025], "tickCount": 30, "format": ".3f", "title": "Density", "minExtent": 24, "maxExtent": 24, "labelOverlap": false}},
      "fill": {"field": "s", "type": "nominal", "scale": {"domain": ["Base","Shifted"], "range": ["#1b9e77","#2a7ab9"]}, "legend": {"title": null, "labelExpr": "'log p(response | image, query) ' + datum.label", "encode": {"symbols": {"update": {"fillOpacity": {"value": 0.3}}}}}},
      "stroke": {"field": "s", "type": "nominal", "scale": {"domain": ["Base","Shifted"], "range": ["#1b9e77","#2a7ab9"]}, "legend": {"title": null, "labelExpr": "'log p(response | image, query) ' + datum.label", "encode": {"symbols": {"update": {"fillOpacity": {"value": 0.3}}}}}}}},
    {"transform": [{"filter": "datum.k == 'm' && datum.s == 'Base'"}], "mark": {"type": "rule", "stroke": "#1b9e77", "strokeDash": [4, 2], "strokeWidth": 1.2}, "encoding": {"x": {"field": "x", "type": "quantitative"}}},
    {"transform": [{"filter": "datum.k == 'm' && datum.s == 'Shifted'"}], "mark": {"type": "rule", "stroke": "#2a7ab9", "strokeDash": [4, 2], "strokeWidth": 1.2}, "encoding": {"x": {"field": "x", "type": "quantitative"}}},
    {"transform": [{"filter": "datum.k == 's'"}], "mark": {"type": "rule", "stroke": "#000", "strokeWidth": 1}, "encoding": {"x": {"field": "x", "type": "quantitative"}, "x2": {"field": "x2"}, "y": {"field": "y", "type": "quantitative"}}},
    {"transform": [{"filter": "datum.k == 's'"}], "mark": {"type": "point", "shape": "M-1,-0.75L0,0L-1,0.75", "filled": false, "size": 70, "stroke": "#000", "strokeWidth": 1, "opacity": 1}, "encoding": {"x": {"field": "x2", "type": "quantitative"}, "y": {"field": "y", "type": "quantitative"}}},
    {"transform": [{"filter": "datum.k == 't'"}], "mark": {"type": "text", "align": "left", "baseline": "middle", "fontSize": 15, "font": "DejaVu Sans", "color": "#000"}, "encoding": {"x": {"field": "x", "type": "quantitative"}, "y": {"field": "y", "type": "quantitative"}, "text": {"field": "t"}}}
   ]},
  {"width": 242, "height": 107, "data": {"name": "d"}, "transform": [{"filter": "datum.p == 'b2'"}],
   "layer": [
    {"transform": [{"filter": "datum.k == 'c'"}], "mark": {"type": "area", "interpolate": "monotone", "fillOpacity": 0.3, "strokeWidth": 1.2, "clip": true},
     "encoding": {
      "x": {"field": "x", "type": "quantitative", "scale": {"domain": [-60, 100], "nice": false, "zero": false}, "axis": {"values": [-60,-40,-20,0,20,40,60,80,100], "tickCount": 30, "labels": false, "title": null}},
      "y": {"field": "y", "type": "quantitative", "stack": null, "scale": {"domain": [0, 0.0245], "nice": false}, "axis": {"values": [0,0.005,0.01,0.015,0.02], "tickCount": 30, "format": ".3f", "title": "Density", "minExtent": 24, "maxExtent": 24, "labelOverlap": false}},
      "fill": {"field": "s", "type": "nominal", "scale": {"domain": ["Base","Shifted"], "range": ["#1b9e77","#2a7ab9"]}, "legend": {"title": null, "labelExpr": "'log p(response | query) ' + datum.label", "encode": {"symbols": {"update": {"fillOpacity": {"value": 0.3}}}}}},
      "stroke": {"field": "s", "type": "nominal", "scale": {"domain": ["Base","Shifted"], "range": ["#1b9e77","#2a7ab9"]}, "legend": {"title": null, "labelExpr": "'log p(response | query) ' + datum.label", "encode": {"symbols": {"update": {"fillOpacity": {"value": 0.3}}}}}}}},
    {"transform": [{"filter": "datum.k == 'm' && datum.s == 'Base'"}], "mark": {"type": "rule", "stroke": "#1b9e77", "strokeDash": [4, 2], "strokeWidth": 1.2}, "encoding": {"x": {"field": "x", "type": "quantitative"}}},
    {"transform": [{"filter": "datum.k == 'm' && datum.s == 'Shifted'"}], "mark": {"type": "rule", "stroke": "#2a7ab9", "strokeDash": [4, 2], "strokeWidth": 1.2}, "encoding": {"x": {"field": "x", "type": "quantitative"}}},
    {"transform": [{"filter": "datum.k == 's'"}], "mark": {"type": "rule", "stroke": "#000", "strokeWidth": 1}, "encoding": {"x": {"field": "x", "type": "quantitative"}, "x2": {"field": "x2"}, "y": {"field": "y", "type": "quantitative"}}},
    {"transform": [{"filter": "datum.k == 's'"}], "mark": {"type": "point", "shape": "M-1,-0.75L0,0L-1,0.75", "filled": false, "size": 70, "stroke": "#000", "strokeWidth": 1, "opacity": 1}, "encoding": {"x": {"field": "x2", "type": "quantitative"}, "y": {"field": "y", "type": "quantitative"}}},
    {"transform": [{"filter": "datum.k == 't'"}], "mark": {"type": "text", "align": "left", "baseline": "middle", "fontSize": 15, "font": "DejaVu Sans", "color": "#000"}, "encoding": {"x": {"field": "x", "type": "quantitative"}, "y": {"field": "y", "type": "quantitative"}, "text": {"field": "t"}}}
   ]},
  {"width": 242, "height": 107, "data": {"name": "d"}, "transform": [{"filter": "datum.p == 'b3'"}],
   "layer": [
    {"transform": [{"filter": "datum.k == 'c'"}], "mark": {"type": "area", "interpolate": "monotone", "fillOpacity": 0.3, "strokeWidth": 1.2, "clip": true},
     "encoding": {
      "x": {"field": "x", "type": "quantitative", "scale": {"domain": [-60, 100], "nice": false, "zero": false}, "axis": {"values": [-60,-40,-20,0,20,40,60,80,100], "tickCount": 30, "labelOverlap": false, "format": "d", "title": "log p_accurate − log p_hallucinatory"}},
      "y": {"field": "y", "type": "quantitative", "stack": null, "scale": {"domain": [0, 0.109], "nice": false}, "axis": {"values": [0,0.02,0.04,0.06,0.08,0.1], "tickCount": 30, "format": ".2f", "title": "Density", "minExtent": 24, "maxExtent": 24, "labelOverlap": false}},
      "fill": {"field": "s", "type": "nominal", "scale": {"domain": ["Base","Shifted"], "range": ["#1b9e77","#2a7ab9"]}, "legend": {"title": null, "labelFontSize": 8, "encode": {"labels": {"update": {"lineHeight": {"value": 8.5}}}, "symbols": {"update": {"fillOpacity": {"value": 0.3}}}}, "labelExpr": "['\u200b\u00a0\u00a0\u00a0\u00a0\u00a0\u00a0p(response | image, query)', 'log ─────────────────────── ' + datum.label, '\u200b\u00a0\u00a0\u00a0\u00a0\u00a0\u00a0\u00a0\u00a0\u00a0\u00a0\u00a0\u00a0p(response | query)']"}},
      "stroke": {"field": "s", "type": "nominal", "scale": {"domain": ["Base","Shifted"], "range": ["#1b9e77","#2a7ab9"]}, "legend": {"title": null, "labelFontSize": 8, "encode": {"labels": {"update": {"lineHeight": {"value": 8.5}}}, "symbols": {"update": {"fillOpacity": {"value": 0.3}}}}, "labelExpr": "['\u200b\u00a0\u00a0\u00a0\u00a0\u00a0\u00a0p(response | image, query)', 'log ─────────────────────── ' + datum.label, '\u200b\u00a0\u00a0\u00a0\u00a0\u00a0\u00a0\u00a0\u00a0\u00a0\u00a0\u00a0\u00a0p(response | query)']"}}}},
    {"transform": [{"filter": "datum.k == 'm' && datum.s == 'Base'"}], "mark": {"type": "rule", "stroke": "#1b9e77", "strokeDash": [4, 2], "strokeWidth": 1.2}, "encoding": {"x": {"field": "x", "type": "quantitative"}}},
    {"transform": [{"filter": "datum.k == 'm' && datum.s == 'Shifted'"}], "mark": {"type": "rule", "stroke": "#2a7ab9", "strokeDash": [4, 2], "strokeWidth": 1.2}, "encoding": {"x": {"field": "x", "type": "quantitative"}}},
    {"transform": [{"filter": "datum.k == 's'"}], "mark": {"type": "rule", "stroke": "#000", "strokeWidth": 1}, "encoding": {"x": {"field": "x", "type": "quantitative"}, "x2": {"field": "x2"}, "y": {"field": "y", "type": "quantitative"}}},
    {"transform": [{"filter": "datum.k == 's'"}], "mark": {"type": "point", "shape": "M-1,-0.75L0,0L-1,0.75", "filled": false, "size": 70, "stroke": "#000", "strokeWidth": 1, "opacity": 1}, "encoding": {"x": {"field": "x2", "type": "quantitative"}, "y": {"field": "y", "type": "quantitative"}}},
    {"transform": [{"filter": "datum.k == 't'"}], "mark": {"type": "text", "align": "left", "baseline": "middle", "fontSize": 15, "font": "DejaVu Sans", "color": "#000"}, "encoding": {"x": {"field": "x", "type": "quantitative"}, "y": {"field": "y", "type": "quantitative"}, "text": {"field": "t"}}}
   ]}
 ]},
{"title": {"text": "(c) image-contrast DPO", "orient": "bottom", "anchor": "middle", "font": "Liberation Serif", "fontSize": 19, "fontWeight": "normal", "color": "#000", "offset": 21},
 "spacing": 4.5,
 "resolve": {"scale": {"x": "independent", "y": "independent", "fill": "independent", "stroke": "independent"}, "legend": {"fill": "independent", "stroke": "independent"}, "axis": {"x": "independent", "y": "independent"}},
 "vconcat": [
  {"width": 248, "height": 106, "data": {"name": "d"}, "transform": [{"filter": "datum.p == 'c'"}],
   "layer": [
    {"transform": [{"filter": "datum.k == 'c'"}], "mark": {"type": "area", "interpolate": "monotone", "fillOpacity": 0.3, "strokeWidth": 1.2, "clip": true},
     "encoding": {
      "x": {"field": "x", "type": "quantitative", "scale": {"domain": [-20, 40], "nice": false, "zero": false}, "axis": {"values": [-20,-10,0,10,20,30,40], "tickCount": 30, "labels": false, "title": null}},
      "y": {"field": "y", "type": "quantitative", "stack": null, "scale": {"domain": [0, 0.23], "nice": false}, "axis": {"values": [0,0.05,0.1,0.15,0.2], "tickCount": 30, "format": ".2f", "title": "Density", "minExtent": 20, "maxExtent": 20, "titlePadding": 2, "labelOverlap": false}},
      "fill": {"field": "s", "type": "nominal", "scale": {"domain": ["Base","Shifted"], "range": ["#1b9e77","#2a7ab9"]}, "legend": {"title": null, "labelExpr": "'log p(response | image, query) ' + datum.label", "encode": {"symbols": {"update": {"fillOpacity": {"value": 0.3}}}}}},
      "stroke": {"field": "s", "type": "nominal", "scale": {"domain": ["Base","Shifted"], "range": ["#1b9e77","#2a7ab9"]}, "legend": {"title": null, "labelExpr": "'log p(response | image, query) ' + datum.label", "encode": {"symbols": {"update": {"fillOpacity": {"value": 0.3}}}}}}}},
    {"transform": [{"filter": "datum.k == 'm' && datum.s == 'Base'"}], "mark": {"type": "rule", "stroke": "#1b9e77", "strokeDash": [4, 2], "strokeWidth": 1.2}, "encoding": {"x": {"field": "x", "type": "quantitative"}}},
    {"transform": [{"filter": "datum.k == 'm' && datum.s == 'Shifted'"}], "mark": {"type": "rule", "stroke": "#2a7ab9", "strokeDash": [4, 2], "strokeWidth": 1.2}, "encoding": {"x": {"field": "x", "type": "quantitative"}}},
    {"transform": [{"filter": "datum.k == 's'"}], "mark": {"type": "rule", "stroke": "#555", "strokeWidth": 1.2}, "encoding": {"x": {"field": "x", "type": "quantitative"}, "x2": {"field": "x2"}, "y": {"field": "y", "type": "quantitative"}}},
    {"transform": [{"filter": "datum.k == 's'"}], "mark": {"type": "point", "shape": "M-1,-0.75L0,0L-1,0.75", "filled": false, "size": 70, "stroke": "#555", "strokeWidth": 1.2, "opacity": 1}, "encoding": {"x": {"field": "x2", "type": "quantitative"}, "y": {"field": "y", "type": "quantitative"}}},
    {"transform": [{"filter": "datum.k == 't'"}], "mark": {"type": "text", "align": "left", "baseline": "middle", "fontSize": 15, "font": "DejaVu Sans", "color": "#000"}, "encoding": {"x": {"field": "x", "type": "quantitative"}, "y": {"field": "y", "type": "quantitative"}, "text": {"field": "t"}}}
   ]},
  {"width": 248, "height": 107, "data": {"name": "d"}, "transform": [{"filter": "datum.p == 'e'"}],
   "layer": [
    {"transform": [{"filter": "datum.k == 'm' && datum.s == 'Base'"}], "mark": {"type": "rule", "stroke": "#1b9e77", "strokeDash": [4, 2], "strokeWidth": 1.2},
     "encoding": {"x": {"field": "x", "type": "quantitative", "scale": {"domain": [-20, 40], "nice": false, "zero": false}, "axis": {"values": [-20,-10,0,10,20,30,40], "tickCount": 30, "labels": false, "title": null}}}},
    {"transform": [{"filter": "datum.k == 'm' && datum.s == 'Shifted'"}], "mark": {"type": "rule", "stroke": "#2a7ab9", "strokeDash": [4, 2], "strokeWidth": 1.2}, "encoding": {"x": {"field": "x", "type": "quantitative"}}},
    {"transform": [{"filter": "datum.k == 't'"}], "mark": {"type": "text", "align": "left", "baseline": "middle", "fontSize": 15, "font": "DejaVu Sans", "color": "#000"},
     "encoding": {"x": {"field": "x", "type": "quantitative"}, "y": {"field": "y", "type": "quantitative", "scale": {"domain": [0, 1], "nice": false}, "axis": {"values": [0,0.2,0.4,0.6,0.8,1], "tickCount": 30, "format": ".1f", "title": "Density", "minExtent": 20, "maxExtent": 20, "titlePadding": 2, "labelOverlap": false}}, "text": {"field": "t"}}}
   ]},
  {"width": 248, "height": 107, "data": {"name": "d"}, "transform": [{"filter": "datum.p == 'c'"}],
   "layer": [
    {"transform": [{"filter": "datum.k == 'c'"}], "mark": {"type": "area", "interpolate": "monotone", "fillOpacity": 0.3, "strokeWidth": 1.2, "clip": true},
     "encoding": {
      "x": {"field": "x", "type": "quantitative", "scale": {"domain": [-20, 40], "nice": false, "zero": false}, "axis": {"values": [-20,-10,0,10,20,30,40], "tickCount": 30, "labelOverlap": false, "format": "d", "title": "log p_accurate − log p_hallucinatory"}},
      "y": {"field": "y", "type": "quantitative", "stack": null, "scale": {"domain": [0, 0.23], "nice": false}, "axis": {"values": [0,0.05,0.1,0.15,0.2], "tickCount": 30, "format": ".2f", "title": "Density", "minExtent": 20, "maxExtent": 20, "titlePadding": 2, "labelOverlap": false}},
      "fill": {"field": "s", "type": "nominal", "scale": {"domain": ["Base","Shifted"], "range": ["#1b9e77","#2a7ab9"]}, "legend": {"title": null, "labelFontSize": 8, "encode": {"labels": {"update": {"lineHeight": {"value": 8.5}}}, "symbols": {"update": {"fillOpacity": {"value": 0.3}}}}, "labelExpr": "['\u200b\u00a0\u00a0\u00a0\u00a0\u00a0\u00a0p(response | image, query)', 'log ─────────────────────── ' + datum.label, '\u200b\u00a0\u00a0\u00a0\u00a0\u00a0\u00a0\u00a0\u00a0\u00a0\u00a0\u00a0\u00a0p(response | query)']"}},
      "stroke": {"field": "s", "type": "nominal", "scale": {"domain": ["Base","Shifted"], "range": ["#1b9e77","#2a7ab9"]}, "legend": {"title": null, "labelFontSize": 8, "encode": {"labels": {"update": {"lineHeight": {"value": 8.5}}}, "symbols": {"update": {"fillOpacity": {"value": 0.3}}}}, "labelExpr": "['\u200b\u00a0\u00a0\u00a0\u00a0\u00a0\u00a0p(response | image, query)', 'log ─────────────────────── ' + datum.label, '\u200b\u00a0\u00a0\u00a0\u00a0\u00a0\u00a0\u00a0\u00a0\u00a0\u00a0\u00a0\u00a0p(response | query)']"}}}},
    {"transform": [{"filter": "datum.k == 'm' && datum.s == 'Base'"}], "mark": {"type": "rule", "stroke": "#1b9e77", "strokeDash": [4, 2], "strokeWidth": 1.2}, "encoding": {"x": {"field": "x", "type": "quantitative"}}},
    {"transform": [{"filter": "datum.k == 'm' && datum.s == 'Shifted'"}], "mark": {"type": "rule", "stroke": "#2a7ab9", "strokeDash": [4, 2], "strokeWidth": 1.2}, "encoding": {"x": {"field": "x", "type": "quantitative"}}},
    {"transform": [{"filter": "datum.k == 's'"}], "mark": {"type": "rule", "stroke": "#555", "strokeWidth": 1.2}, "encoding": {"x": {"field": "x", "type": "quantitative"}, "x2": {"field": "x2"}, "y": {"field": "y", "type": "quantitative"}}},
    {"transform": [{"filter": "datum.k == 's'"}], "mark": {"type": "point", "shape": "M-1,-0.75L0,0L-1,0.75", "filled": false, "size": 70, "stroke": "#555", "strokeWidth": 1.2, "opacity": 1}, "encoding": {"x": {"field": "x2", "type": "quantitative"}, "y": {"field": "y", "type": "quantitative"}}},
    {"transform": [{"filter": "datum.k == 't'"}], "mark": {"type": "text", "align": "left", "baseline": "middle", "fontSize": 15, "font": "DejaVu Sans", "color": "#000"}, "encoding": {"x": {"field": "x", "type": "quantitative"}, "y": {"field": "y", "type": "quantitative"}, "text": {"field": "t"}}}
   ]}
 ]},
{"title": {"text": "(d) image-contrast V-DPO", "orient": "bottom", "anchor": "middle", "font": "Liberation Serif", "fontSize": 19, "fontWeight": "normal", "color": "#000", "offset": 21},
 "spacing": 4.5,
 "resolve": {"scale": {"x": "independent", "y": "independent", "fill": "independent", "stroke": "independent"}, "legend": {"fill": "independent", "stroke": "independent"}, "axis": {"x": "independent", "y": "independent"}},
 "vconcat": [
  {"width": 248, "height": 106, "data": {"name": "d"}, "transform": [{"filter": "datum.p == 'd'"}],
   "layer": [
    {"transform": [{"filter": "datum.k == 'c'"}], "mark": {"type": "area", "interpolate": "monotone", "fillOpacity": 0.3, "strokeWidth": 1.2, "clip": true},
     "encoding": {
      "x": {"field": "x", "type": "quantitative", "scale": {"domain": [-20, 40], "nice": false, "zero": false}, "axis": {"values": [-20,-10,0,10,20,30,40], "tickCount": 30, "labels": false, "title": null}},
      "y": {"field": "y", "type": "quantitative", "stack": null, "scale": {"domain": [0, 0.23], "nice": false}, "axis": {"values": [0,0.05,0.1,0.15,0.2], "tickCount": 30, "format": ".2f", "title": "Density", "minExtent": 20, "maxExtent": 20, "titlePadding": 2, "labelOverlap": false}},
      "fill": {"field": "s", "type": "nominal", "scale": {"domain": ["Base","Shifted"], "range": ["#1b9e77","#2a7ab9"]}, "legend": {"title": null, "labelExpr": "'log p(response | image, query) ' + datum.label", "encode": {"symbols": {"update": {"fillOpacity": {"value": 0.3}}}}}},
      "stroke": {"field": "s", "type": "nominal", "scale": {"domain": ["Base","Shifted"], "range": ["#1b9e77","#2a7ab9"]}, "legend": {"title": null, "labelExpr": "'log p(response | image, query) ' + datum.label", "encode": {"symbols": {"update": {"fillOpacity": {"value": 0.3}}}}}}}},
    {"transform": [{"filter": "datum.k == 'm' && datum.s == 'Base'"}], "mark": {"type": "rule", "stroke": "#1b9e77", "strokeDash": [4, 2], "strokeWidth": 1.2}, "encoding": {"x": {"field": "x", "type": "quantitative"}}},
    {"transform": [{"filter": "datum.k == 'm' && datum.s == 'Shifted'"}], "mark": {"type": "rule", "stroke": "#2a7ab9", "strokeDash": [4, 2], "strokeWidth": 1.2}, "encoding": {"x": {"field": "x", "type": "quantitative"}}},
    {"transform": [{"filter": "datum.k == 's'"}], "mark": {"type": "rule", "stroke": "#555", "strokeWidth": 1.2}, "encoding": {"x": {"field": "x", "type": "quantitative"}, "x2": {"field": "x2"}, "y": {"field": "y", "type": "quantitative"}}},
    {"transform": [{"filter": "datum.k == 's'"}], "mark": {"type": "point", "shape": "M-1,-0.75L0,0L-1,0.75", "filled": false, "size": 70, "stroke": "#555", "strokeWidth": 1.2, "opacity": 1}, "encoding": {"x": {"field": "x2", "type": "quantitative"}, "y": {"field": "y", "type": "quantitative"}}},
    {"transform": [{"filter": "datum.k == 't'"}], "mark": {"type": "text", "align": "left", "baseline": "middle", "fontSize": 15, "font": "DejaVu Sans", "color": "#000"}, "encoding": {"x": {"field": "x", "type": "quantitative"}, "y": {"field": "y", "type": "quantitative"}, "text": {"field": "t"}}}
   ]},
  {"width": 248, "height": 107, "data": {"name": "d"}, "transform": [{"filter": "datum.p == 'e'"}],
   "layer": [
    {"transform": [{"filter": "datum.k == 'm' && datum.s == 'Base'"}], "mark": {"type": "rule", "stroke": "#1b9e77", "strokeDash": [4, 2], "strokeWidth": 1.2},
     "encoding": {"x": {"field": "x", "type": "quantitative", "scale": {"domain": [-20, 40], "nice": false, "zero": false}, "axis": {"values": [-20,-10,0,10,20,30,40], "tickCount": 30, "labels": false, "title": null}}}},
    {"transform": [{"filter": "datum.k == 'm' && datum.s == 'Shifted'"}], "mark": {"type": "rule", "stroke": "#2a7ab9", "strokeDash": [4, 2], "strokeWidth": 1.2}, "encoding": {"x": {"field": "x", "type": "quantitative"}}},
    {"transform": [{"filter": "datum.k == 't'"}], "mark": {"type": "text", "align": "left", "baseline": "middle", "fontSize": 15, "font": "DejaVu Sans", "color": "#000"},
     "encoding": {"x": {"field": "x", "type": "quantitative"}, "y": {"field": "y", "type": "quantitative", "scale": {"domain": [0, 1], "nice": false}, "axis": {"values": [0,0.2,0.4,0.6,0.8,1], "tickCount": 30, "format": ".1f", "title": "Density", "minExtent": 20, "maxExtent": 20, "titlePadding": 2, "labelOverlap": false}}, "text": {"field": "t"}}}
   ]},
  {"width": 248, "height": 107, "data": {"name": "d"}, "transform": [{"filter": "datum.p == 'd'"}],
   "layer": [
    {"transform": [{"filter": "datum.k == 'c'"}], "mark": {"type": "area", "interpolate": "monotone", "fillOpacity": 0.3, "strokeWidth": 1.2, "clip": true},
     "encoding": {
      "x": {"field": "x", "type": "quantitative", "scale": {"domain": [-20, 40], "nice": false, "zero": false}, "axis": {"values": [-20,-10,0,10,20,30,40], "tickCount": 30, "labelOverlap": false, "format": "d", "title": "log p_accurate − log p_hallucinatory"}},
      "y": {"field": "y", "type": "quantitative", "stack": null, "scale": {"domain": [0, 0.23], "nice": false}, "axis": {"values": [0,0.05,0.1,0.15,0.2], "tickCount": 30, "format": ".2f", "title": "Density", "minExtent": 20, "maxExtent": 20, "titlePadding": 2, "labelOverlap": false}},
      "fill": {"field": "s", "type": "nominal", "scale": {"domain": ["Base","Shifted"], "range": ["#1b9e77","#2a7ab9"]}, "legend": {"title": null, "labelFontSize": 8, "encode": {"labels": {"update": {"lineHeight": {"value": 8.5}}}, "symbols": {"update": {"fillOpacity": {"value": 0.3}}}}, "labelExpr": "['\u200b\u00a0\u00a0\u00a0\u00a0\u00a0\u00a0p(response | image, query)', 'log ─────────────────────── ' + datum.label, '\u200b\u00a0\u00a0\u00a0\u00a0\u00a0\u00a0\u00a0\u00a0\u00a0\u00a0\u00a0\u00a0p(response | query)']"}},
      "stroke": {"field": "s", "type": "nominal", "scale": {"domain": ["Base","Shifted"], "range": ["#1b9e77","#2a7ab9"]}, "legend": {"title": null, "labelFontSize": 8, "encode": {"labels": {"update": {"lineHeight": {"value": 8.5}}}, "symbols": {"update": {"fillOpacity": {"value": 0.3}}}}, "labelExpr": "['\u200b\u00a0\u00a0\u00a0\u00a0\u00a0\u00a0p(response | image, query)', 'log ─────────────────────── ' + datum.label, '\u200b\u00a0\u00a0\u00a0\u00a0\u00a0\u00a0\u00a0\u00a0\u00a0\u00a0\u00a0\u00a0p(response | query)']"}}}},
    {"transform": [{"filter": "datum.k == 'm' && datum.s == 'Base'"}], "mark": {"type": "rule", "stroke": "#1b9e77", "strokeDash": [4, 2], "strokeWidth": 1.2}, "encoding": {"x": {"field": "x", "type": "quantitative"}}},
    {"transform": [{"filter": "datum.k == 'm' && datum.s == 'Shifted'"}], "mark": {"type": "rule", "stroke": "#2a7ab9", "strokeDash": [4, 2], "strokeWidth": 1.2}, "encoding": {"x": {"field": "x", "type": "quantitative"}}},
    {"transform": [{"filter": "datum.k == 's'"}], "mark": {"type": "rule", "stroke": "#555", "strokeWidth": 1.2}, "encoding": {"x": {"field": "x", "type": "quantitative"}, "x2": {"field": "x2"}, "y": {"field": "y", "type": "quantitative"}}},
    {"transform": [{"filter": "datum.k == 's'"}], "mark": {"type": "point", "shape": "M-1,-0.75L0,0L-1,0.75", "filled": false, "size": 70, "stroke": "#555", "strokeWidth": 1.2, "opacity": 1}, "encoding": {"x": {"field": "x2", "type": "quantitative"}, "y": {"field": "y", "type": "quantitative"}}},
    {"transform": [{"filter": "datum.k == 't'"}], "mark": {"type": "text", "align": "left", "baseline": "middle", "fontSize": 15, "font": "DejaVu Sans", "color": "#000"}, "encoding": {"x": {"field": "x", "type": "quantitative"}, "y": {"field": "y", "type": "quantitative"}, "text": {"field": "t"}}}
   ]}
 ]}
],
"spacing": 23.5,
"resolve": {"scale": {"x": "independent", "y": "independent", "fill": "independent", "stroke": "independent"}, "legend": {"fill": "independent", "stroke": "independent"}, "axis": {"x": "independent", "y": "independent"}},
"config": {
 "font": "DejaVu Sans",
 "view": {"stroke": "#000", "strokeWidth": 1},
 "axis": {"grid": true, "gridColor": "#b8b8b8", "gridWidth": 0.8, "domain": false, "tickColor": "#000", "tickSize": 3.5, "tickWidth": 0.8, "labelFont": "DejaVu Sans", "labelFontSize": 6, "labelColor": "#222", "labelPadding": 1.5, "titleFont": "DejaVu Sans", "titleFontSize": 6.5, "titleFontWeight": "normal", "titleColor": "#000"},
 "axisX": {"labelFlush": false, "labelFontSize": 6.5, "labelOverlap": false, "titleFontSize": 11, "titlePadding": 2},
 "axisY": {"titlePadding": 3, "labelOverlap": false},
 "legend": {"orient": "bottom-right", "offset": 6, "labelFont": "DejaVu Sans", "labelColor": "#000", "labelFontSize": 11, "labelLimit": 400, "symbolType": "M-2.2,-0.8H2.2V0.8H-2.2Z", "symbolSize": 100, "symbolStrokeWidth": 1.2, "symbolOffset": 6, "labelOffset": 16, "rowPadding": 5, "padding": 4, "fillColor": "rgba(255,255,255,0.8)", "strokeColor": "#cccccc", "cornerRadius": 3}
}
}
